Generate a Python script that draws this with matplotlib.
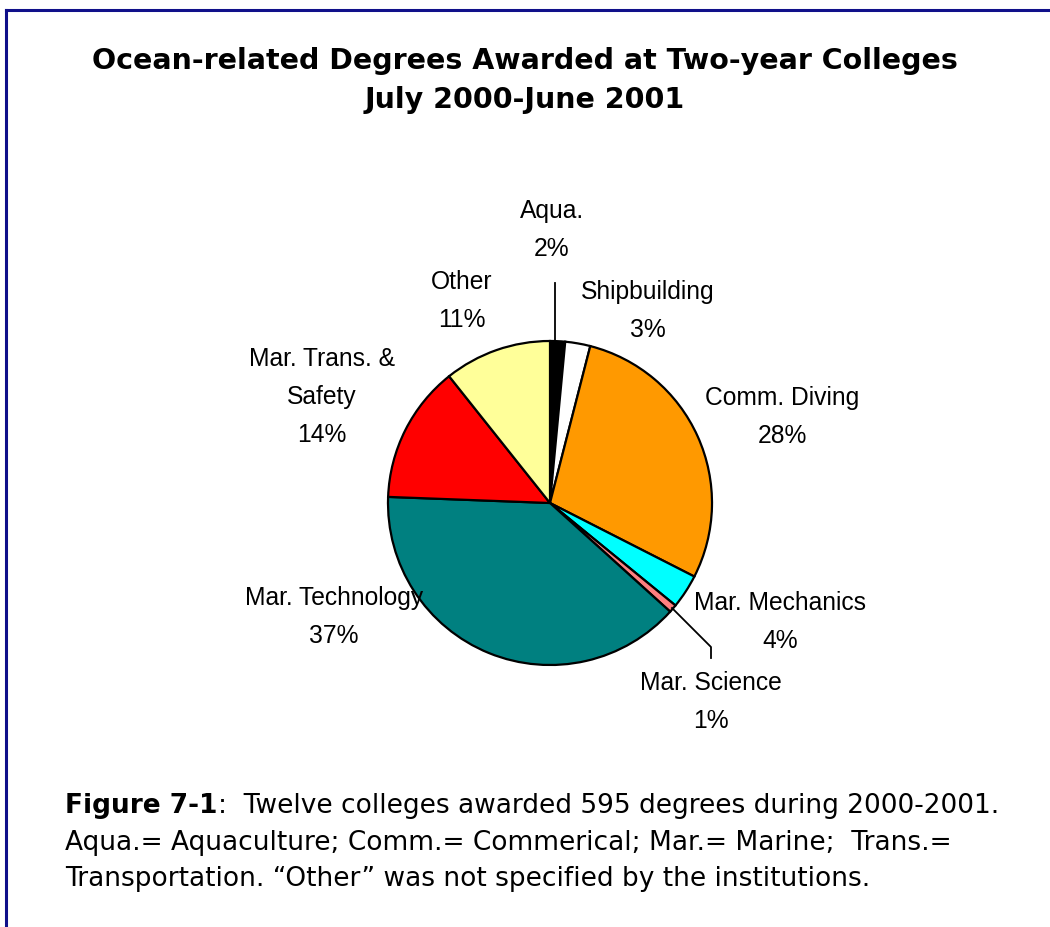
import matplotlib
matplotlib.use("Agg")
import matplotlib.pyplot as plt
from matplotlib.lines import Line2D

# Slice shares (% of pie); printed labels as shown
categories = ["Aqua.", "Shipbuilding", "Comm. Diving", "Mar. Mechanics",
              "Mar. Science", "Mar. Technology", "Mar. Trans. &\nSafety", "Other"]
shares = [1.5, 2.5, 28.5, 3.4, 0.8, 38.9, 13.7, 10.7]
pct_labels = ["2%", "3%", "28%", "4%", "1%", "37%", "14%", "11%"]
colors = ["#000000", "#FFFFFF", "#FF9900", "#00FFFF",
          "#FF8080", "#008080", "#FF0000", "#FFFF99"]

W, H = 1050, 927
fig = plt.figure(figsize=(W / 100, H / 100), dpi=100)

# frame lines (top and left only)
fig.add_artist(Line2D([6 / W, 1.0], [1 - 10 / H, 1 - 10 / H], color="#10108a", lw=2.2))
fig.add_artist(Line2D([6 / W, 6 / W], [1 - 10 / H, 0], color="#10108a", lw=2.2))

fig.text(0.5, 1 - 61 / H, "Ocean-related Degrees Awarded at Two-year Colleges",
         ha="center", va="center", fontsize=20.5, fontweight="bold", family="DejaVu Sans")
fig.text(0.5, 1 - 100 / H, "July 2000-June 2001",
         ha="center", va="center", fontsize=20.5, fontweight="bold", family="DejaVu Sans")

# pie axes: center (550, 503) px, radius 162 px
cx, cy, r = 550, 503, 162
ax = fig.add_axes([(cx - r) / W, (H - cy - r) / H, 2 * r / W, 2 * r / H])
ax.pie(shares, colors=colors, startangle=90, counterclock=False, radius=1,
       wedgeprops=dict(edgecolor="black", linewidth=1.6))
ax.set_xlim(-1, 1)
ax.set_ylim(-1, 1)
ax.set_aspect("equal")
ax.axis("off")

# label centres in pixels
label_pos = [(552, 230), (648, 311), (782, 417), (780, 622),
             (711, 702), (334, 617), (322, 397), (462, 301)]

def to_data(px, py):
    return (px - cx) / r, (cy - py) / r

for name, p, (px, py) in zip(categories, pct_labels, label_pos):
    x, y = to_data(px, py)
    ax.text(x, y, f"{name}\n{p}", ha="center", va="center", fontsize=17.7,
            family="Liberation Sans", linespacing=1.75, clip_on=False)

# leader lines
for pts in [[(555, 283), (555, 343)],
            [(672, 608), (711, 647), (711, 658)]]:
    xs, ys = zip(*[to_data(*p) for p in pts])
    ax.plot(xs, ys, color="black", lw=1.3, clip_on=False)

# caption
cap_font = dict(fontsize=19, family="DejaVu Sans")
fig.canvas.draw()
t1 = fig.text(65 / W, 1 - 806 / H, "Figure 7-1", va="center", fontweight="bold", **cap_font)
bb = t1.get_window_extent(renderer=fig.canvas.get_renderer())
fig.text(bb.x1 / W, 1 - 806 / H, ":  Twelve colleges awarded 595 degrees during 2000-2001.",
         va="center", **cap_font)
fig.text(65 / W, 1 - 843 / H, "Aqua.= Aquaculture; Comm.= Commerical; Mar.= Marine;  Trans.=",
         va="center", **cap_font)
fig.text(65 / W, 1 - 879 / H, "Transportation. \u201cOther\u201d was not specified by the institutions.",
         va="center", **cap_font)

fig.savefig("out.png", dpi=100)
